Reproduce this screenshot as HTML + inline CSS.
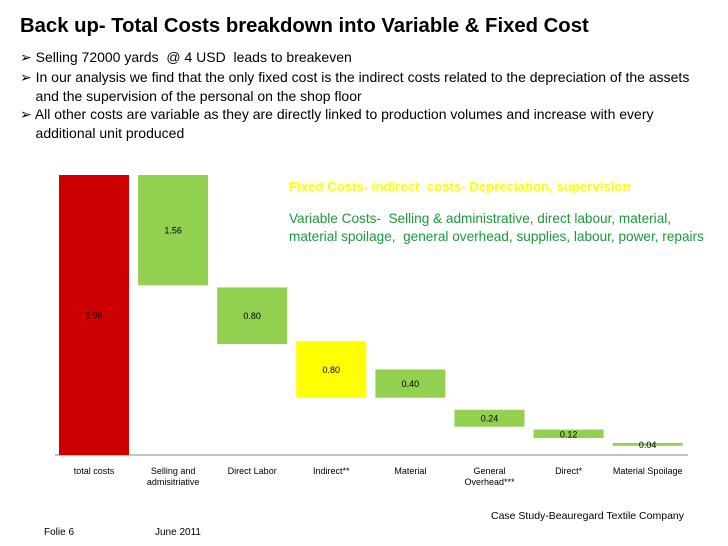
<!DOCTYPE html>
<html><head><meta charset="utf-8"><style>
body{margin:0;width:728px;height:546px;background:#fff;font-family:"Liberation Sans",sans-serif;overflow:hidden;position:relative}
.t{position:absolute;white-space:nowrap;color:#000}
</style></head><body>
<div class="t" style="left:20px;top:15px;font-size:20.3px;font-weight:bold">Back up- Total Costs breakdown into Variable &amp; Fixed Cost</div>
<div class="t" style="left:20px;top:49px;font-size:14px">➢ Selling 72000 yards &nbsp;@ 4 USD &nbsp;leads to breakeven</div>
<div class="t" style="left:20px;top:68px;font-size:14px;line-height:18.5px">➢ In our analysis we find that the only fixed cost is the indirect costs related to the depreciation of the assets<br>&nbsp;&nbsp;&nbsp;&nbsp;and the supervision of the personal on the shop floor</div>
<div class="t" style="left:20px;top:105px;font-size:14px;line-height:18.5px">➢ All other costs are variable as they are directly linked to production volumes and increase with every<br>&nbsp;&nbsp;&nbsp;&nbsp;additional unit produced</div>
<svg id="chart" width="728" height="546" style="position:absolute;left:0;top:0" font-family="Liberation Sans, sans-serif">
<text x="289" y="191" font-size="13.2" font-weight="bold" fill="#ffff00">Fixed Costs- indirect &#160;costs- Depreciation, supervision</text>
<text x="289" y="223" font-size="13.6" fill="#1a9a3a">Variable Costs- &#160;Selling &amp; administrative, direct labour, material,</text>
<text x="289" y="241" font-size="13.6" fill="#1a9a3a">material spoilage, &#160;general overhead, supplies, labour, power, repairs</text>
<line x1="55" y1="455" x2="688" y2="455" stroke="#888" stroke-width="1"/>
<text x="491" y="519" font-size="10.5">Case Study-Beauregard Textile Company</text>
<text x="44" y="535" font-size="10">Folie 6</text>
<text x="155" y="535" font-size="10">June 2011</text>
</svg>
<script>
const categories=["total costs","Selling and|admisitriative","Direct Labor","Indirect**","Material","General|Overhead***","Direct*","Material Spoilage"];
const values=[3.96,1.56,0.80,0.80,0.40,0.24,0.12,0.04];
const bases=[0,2.40,1.57,0.81,0.81,0.40,0.24,0.13];
const valueLabels=["3.96","1.56","0.80","0.80","0.40","0.24","0.12","0.04"];
const barColors=["#cc0000","#92d050","#92d050","#ffff00","#92d050","#92d050","#92d050","#92d050"];
const svg=document.getElementById('chart');
const NS='http://www.w3.org/2000/svg';
const y0=455,yTop=175,vmax=3.96;
const y=v=>y0-(v/vmax)*(y0-yTop);
const x0=59,step=79.1,bw=70;
const x=i=>x0+i*step;
categories.forEach((c,i)=>{
  const top=y(bases[i]+values[i]),bot=y(bases[i]);
  const r=document.createElementNS(NS,'rect');
  r.setAttribute('x',x(i));r.setAttribute('y',top);r.setAttribute('width',bw);r.setAttribute('height',Math.max(bot-top,1));r.setAttribute('fill',barColors[i]);
  
  
  svg.appendChild(r);
  const t=document.createElementNS(NS,'text');
  t.setAttribute('x',x(i)+bw/2);t.setAttribute('y',(top+bot)/2+3.5);
  t.setAttribute('text-anchor','middle');t.setAttribute('font-size','9');t.setAttribute('fill','#000');
  t.textContent=valueLabels[i];
  
  
  svg.appendChild(t);
  c.split('|').forEach((ln,k)=>{
    const l=document.createElementNS(NS,'text');
    l.setAttribute('x',x(i)+bw/2);l.setAttribute('y',474+k*11);
    l.setAttribute('text-anchor','middle');l.setAttribute('font-size','9');
    l.textContent=ln;
    
    
    svg.appendChild(l);
  });
});
</script>
</body></html>
